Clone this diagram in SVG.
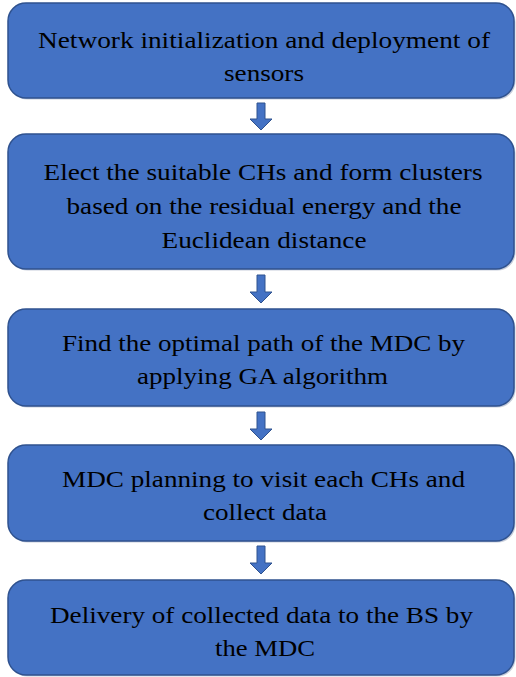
<svg xmlns="http://www.w3.org/2000/svg" width="516" height="677" viewBox="0 0 516 677" font-family="Liberation Serif, DejaVu Serif, serif">
<defs>
<style>
.box{fill:#4472C4;stroke:#2F528F;stroke-width:1.5}
.sh{fill:#9AA6BE;opacity:0.55}
.t{font-size:24px;fill:#000;text-anchor:middle}
.arr{fill:#4472C4;stroke:#2F528F;stroke-width:1}
</style>
</defs>
<rect width="516" height="677" fill="#ffffff"/>
<g id="node1">
<rect x="9.5" y="4.5" width="506" height="95" rx="18" class="sh"/>
<rect x="8" y="3" width="506" height="95" rx="18" class="box"/>
<text class="t" x="264" y="48" textLength="452" lengthAdjust="spacingAndGlyphs">Network initialization and deployment of</text>
<text class="t" x="264" y="81" textLength="80" lengthAdjust="spacingAndGlyphs">sensors</text>
</g>
<g id="node2">
<rect x="9.5" y="135.5" width="506" height="135" rx="18" class="sh"/>
<rect x="8" y="134" width="506" height="135" rx="18" class="box"/>
<text class="t" x="263" y="180" textLength="439" lengthAdjust="spacingAndGlyphs">Elect the suitable CHs and form clusters</text>
<text class="t" x="264" y="214" textLength="395" lengthAdjust="spacingAndGlyphs">based on the residual energy and the</text>
<text class="t" x="264" y="248" textLength="205" lengthAdjust="spacingAndGlyphs">Euclidean distance</text>
</g>
<g id="node3">
<rect x="9.5" y="310.5" width="506" height="97" rx="18" class="sh"/>
<rect x="8" y="309" width="506" height="97" rx="18" class="box"/>
<text class="t" x="263.5" y="351" textLength="403" lengthAdjust="spacingAndGlyphs">Find the optimal path of the MDC by</text>
<text class="t" x="262.5" y="384" textLength="251" lengthAdjust="spacingAndGlyphs">applying GA algorithm</text>
</g>
<g id="node4">
<rect x="9.5" y="446.5" width="506" height="96" rx="18" class="sh"/>
<rect x="8" y="445" width="506" height="96" rx="18" class="box"/>
<text class="t" x="263.5" y="487" textLength="403" lengthAdjust="spacingAndGlyphs">MDC planning to visit each CHs and</text>
<text class="t" x="265" y="520" textLength="124" lengthAdjust="spacingAndGlyphs">collect data</text>
</g>
<g id="node5">
<rect x="9.5" y="581.5" width="506" height="95" rx="18" class="sh"/>
<rect x="8" y="580" width="506" height="95" rx="18" class="box"/>
<text class="t" x="261.5" y="623" textLength="423" lengthAdjust="spacingAndGlyphs">Delivery of collected data to the BS by</text>
<text class="t" x="265" y="656" textLength="100" lengthAdjust="spacingAndGlyphs">the MDC</text>
</g>
<g id="connectors">
<path class="arr" d="M257,103 H265 V119 H272 L261,130 L250,119 H257 Z"/>
<path class="arr" d="M257,275 H265 V292 H272 L261,303 L250,292 H257 Z"/>
<path class="arr" d="M257,412 H265 V429 H272 L261,440 L250,429 H257 Z"/>
<path class="arr" d="M257,546 H265 V563 H272 L261,574 L250,563 H257 Z"/>
</g>
</svg>
